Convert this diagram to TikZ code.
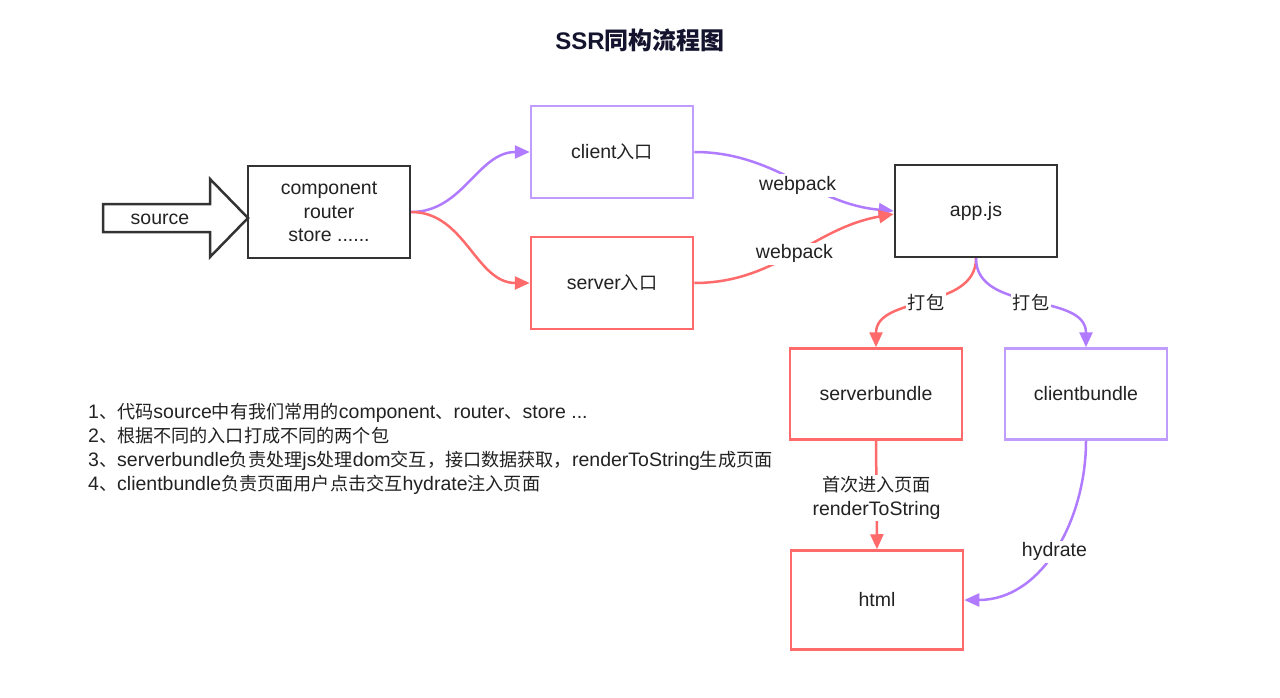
\documentclass[tikz,border=0pt]{standalone}
\usepackage{fontspec}
\setmainfont{Liberation Sans}
\newfontfamily\cjk[Scale=0.93]{Noto Sans CJK SC}
\newfontfamily\cjktitle{Noto Sans CJK SC}
\usetikzlibrary{arrows.meta}
\definecolor{myred}{HTML}{FF6B6B}
\definecolor{mypurple}{HTML}{B07BFF}
\definecolor{boxpurple}{HTML}{C09CFF}
\definecolor{boxblack}{HTML}{333333}
\definecolor{txt}{HTML}{222222}
\definecolor{titlecol}{HTML}{14142E}
\tikzset{
  box/.style={draw, line width=2.5pt, minimum width=#1, text=txt, font=\fontsize{19.5}{23.5}\selectfont, align=center, inner sep=0pt},
  redbox/.style={box=172pt, draw=myred},
  purplebox/.style={box=162pt, draw=boxpurple},
  blackbox/.style={box=162pt, draw=boxblack},
  conn/.style={line width=2.5pt, -{Triangle[length=15pt,width=13pt]}},
  lbl/.style={fill=white, text=txt, font=\fontsize{19.5}{23.5}\selectfont, align=center, inner sep=2pt},
}
\begin{document}
\begin{tikzpicture}[x=1pt,y=-1pt]
\path[use as bounding box, fill=white] (0,0) rectangle (1280,698);
\node[font=\fontsize{24}{28}\bfseries, text=titlecol] (title) at (640,40) {SSR{\cjktitle 同构流程图}};
% source arrow
\draw[line width=2.5pt, draw=boxblack, fill=white, line join=miter] (103,204) -- (210,204) -- (210,179) -- (248,218) -- (210,257) -- (210,232) -- (103,232) -- cycle;
\node[text=txt, font=\fontsize{19.5}{23.5}\selectfont] (src) at (160,219) {source};
\node[blackbox, minimum height=92pt] (comp) at (329,212) {component\\router\\store ......};
\node[purplebox, minimum height=92pt] (client) at (612,152) {client{\cjk 入口}};
\node[redbox, minimum width=162pt, minimum height=92pt] (server) at (612,283) {server{\cjk 入口}};
\node[blackbox, minimum height=92pt] (app) at (976,211) {app.js};
\node[redbox, minimum height=91pt] (sb) at (876,394) {serverbundle};
\node[purplebox, minimum height=91pt] (cb) at (1086,394) {clientbundle};
\node[redbox, minimum height=99pt] (html) at (877,600) {html};
% connectors
\draw[conn, mypurple] (comp.east) to[out=0,in=180] (client.west);
\draw[conn, myred] (comp.east) to[out=0,in=180] (server.west);
\draw[conn, mypurple] (client.east) to[out=0,in=175] node[lbl, pos=0.52, yshift=-5pt] {webpack} (app.west);
\draw[conn, myred] (server.east) to[out=0,in=190] node[lbl, pos=0.5] {webpack} ([yshift=-3pt]app.west);
\draw[conn, myred] (app.south) to[out=-90,in=90] node[lbl, pos=0.5] {\cjk 打包} (sb.north);
\draw[conn, mypurple] (app.south) to[out=-90,in=90] node[lbl, pos=0.5] {\cjk 打包} (cb.north);
\draw[conn, myred] (sb.south) -- node[lbl, pos=0.5, yshift=-3pt] {{\cjk 首次进入页面}\\renderToString} (html.north);
\draw[conn, mypurple] (cb.south) to[out=-90,in=0] node[lbl, pos=0.5, yshift=-2pt] {hydrate} (html.east);
% notes
\node[anchor=west, text=txt, font=\fontsize{19.5}{24}\selectfont, align=left, inner sep=0pt] (notes) at (88,449) {%
1{\cjk 、代码}source{\cjk 中有我们常用的}component{\cjk 、}router{\cjk 、}store ...\\
2{\cjk 、根据不同的入口打成不同的两个包}\\
3{\cjk 、}serverbundle{\cjk 负责处理}js{\cjk 处理}dom{\cjk 交互，接口数据获取，}renderToString{\cjk 生成页面}\\
4{\cjk 、}clientbundle{\cjk 负责页面用户点击交互}hydrate{\cjk 注入页面}};
\end{tikzpicture}
\end{document}
